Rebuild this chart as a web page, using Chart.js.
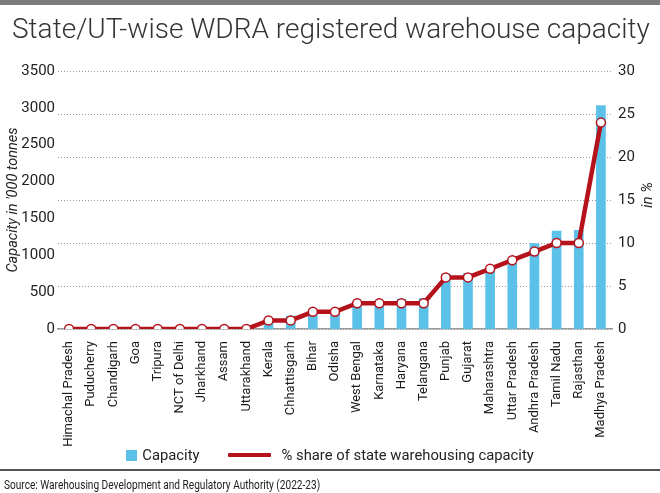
<!DOCTYPE html>
<html>
<head>
<meta charset="utf-8">
<style>
  body { margin: 0; width: 660px; height: 493px; background: #fff; position: relative; overflow: hidden;
         font-family: Roboto, sans-serif; color: #222; }
  #chart { position: absolute; left: 0; top: 0; }
  .topbar { position: absolute; left: 0; top: 0; width: 660px; height: 5px; background: #7d7d7d; }
  .title { position: absolute; left: 12px; top: 13px; font-weight: 300;
           font-size: 27px; color: #333; white-space: nowrap; transform-origin: left top; }
  .legend { position: absolute; top: 446px; left: 0; width: 660px; display: flex; justify-content: center;
            align-items: center; font-size: 14.8px; color: #222; }
  .legend .item { display: flex; align-items: center; margin: 0 14px; }
  .legend .sw { width: 11px; height: 11px; margin-right: 5px; }
  .legend .ln { width: 43px; height: 4px; margin-right: 11px; border-radius: 1px; }
  .rule { position: absolute; left: 0; top: 469px; width: 660px; height: 2px; background: #555; }
  .source { position: absolute; left: 4px; top: 476px; font-size: 13.5px; color: #222; white-space: nowrap;
            transform-origin: left top; }
  .ytitle-r { position: absolute; left: 647px; top: 195px; font-size: 15px; font-style: italic; color: #222;
              white-space: nowrap; transform: translate(-50%, -50%) rotate(-90deg); }
</style>
</head>
<body>
<canvas id="chart" width="660" height="493"></canvas>
<div class="topbar"></div>
<div class="title" id="title">State/UT-wise WDRA registered warehouse capacity</div>
<div class="ytitle-r">in %</div>
<div class="legend" id="legend"></div>
<div class="rule"></div>
<div class="source" id="source">Source: Warehousing Development and Regulatory Authority (2022-23)</div>

<script src="https://cdn.jsdelivr.net/npm/chart.js"></script>
<script>
  // values (capacity in '000 tonnes, share in %)
  const states = [
    'Himachal Pradesh', 'Puducherry', 'Chandigarh', 'Goa', 'Tripura', 'NCT of Delhi', 'Jharkhand',
    'Assam', 'Uttarakhand', 'Kerala', 'Chhattisgarh', 'Bihar', 'Odisha', 'West Bengal', 'Karnataka',
    'Haryana', 'Telangana', 'Punjab', 'Gujarat', 'Maharashtra', 'Uttar Pradesh', 'Andhra Pradesh',
    'Tamil Nadu', 'Rajasthan', 'Madhya Pradesh'
  ];
  const capacity = [1, 2, 3, 4, 5, 6, 8, 10, 15, 110, 175, 195, 200, 300, 310, 405, 415,
                    745, 755, 800, 890, 1160, 1330, 1340, 3030];
  const sharePct = [0, 0, 0, 0, 0, 0, 0, 0, 0, 1, 1, 2, 2, 3, 3, 3, 3, 6, 6, 7, 8, 9, 10, 10, 24];
  const capacityTicks = [0, 3500, 500];   // min, max, step
  const shareTicks = [0, 30, 5];

  const BLUE = '#5cc1e8';
  const RED = '#b5121b';
  const FONT = 'Roboto, sans-serif';

  // squeeze the html texts to the widths they have in the original
  const fitWidth = (id, w) => {
    const el = document.getElementById(id);
    el.style.transform = 'scaleX(' + (w / el.offsetWidth) + ')';
  };
  fitWidth('title', 638);
  fitWidth('source', 316);

  const ctx = document.getElementById('chart').getContext('2d');
  const chart = new Chart(ctx, {
    data: {
      labels: states,
      datasets: [
        {
          type: 'line',
          label: '% share of state warehousing capacity',
          data: sharePct,
          yAxisID: 'y1',
          order: 0,
          borderColor: RED,
          backgroundColor: RED,
          borderWidth: 4.5,
          pointRadius: 4.5,
          pointBorderWidth: 1.5,
          pointBackgroundColor: '#fff',
          pointBorderColor: RED,
          tension: 0
        },
        {
          type: 'bar',
          label: 'Capacity',
          data: capacity,
          yAxisID: 'y',
          order: 1,
          backgroundColor: BLUE,
          barThickness: 9
        }
      ]
    },
    options: {
      responsive: false,
      animation: false,
      layout: { padding: { top: 71, bottom: 46, left: 0, right: 0 } },
      plugins: { legend: { display: false }, tooltip: { enabled: false } },
      scales: {
        x: {
          offset: true,
          grid: { display: false },
          border: { display: true, color: '#999', width: 1.5 },
          ticks: { autoSkip: false, minRotation: 90, maxRotation: 90, padding: 4,
                   color: '#1a1a1a', font: { family: FONT, size: 13 } },
          afterFit: s => { s.height = 118; }
        },
        y: {
          position: 'left',
          min: capacityTicks[0], max: capacityTicks[1],
          grid: { display: false, drawTicks: false },
          border: { display: false },
          ticks: { stepSize: capacityTicks[2], padding: 3, color: '#222',
                   font: { family: FONT, size: 15 }, callback: v => String(v) },
          title: { display: true, text: "Capacity in '000 tonnes", color: '#222', padding: { top: 5, bottom: 0 },
                   font: { family: FONT, size: 14.5, style: 'italic' } },
          afterFit: s => { s.width = 58; }
        },
        y1: {
          position: 'right',
          min: shareTicks[0], max: shareTicks[1],
          grid: { color: '#999', lineWidth: 1, drawTicks: false },
          border: { display: false, dash: [1, 2] },
          ticks: { stepSize: shareTicks[2], padding: 6, color: '#222',
                   font: { family: FONT, size: 15 }, callback: v => String(v) },
          afterFit: s => { s.width = 48; }
        }
      }
    }
  });

  // legend built from the datasets, bar first as in the original
  const legend = document.getElementById('legend');
  [chart.data.datasets[1], chart.data.datasets[0]].forEach(ds => {
    const item = document.createElement('div');
    item.className = 'item';
    const mark = document.createElement('span');
    mark.className = ds.type === 'bar' ? 'sw' : 'ln';
    mark.style.background = ds.type === 'bar' ? ds.backgroundColor : ds.borderColor;
    item.appendChild(mark);
    item.appendChild(document.createTextNode(ds.label));
    legend.appendChild(item);
  });
</script>
</body>
</html>
